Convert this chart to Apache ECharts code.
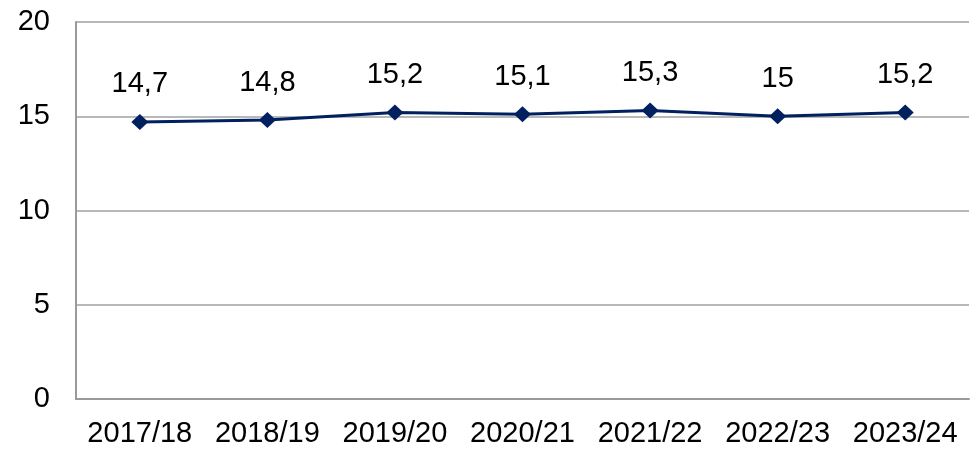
<!DOCTYPE html>
<html>
<head>
<meta charset="utf-8">
<style>
  html, body { margin: 0; padding: 0; background: #fff; }
  #chart { width: 970px; height: 449px; }
</style>
<script src="https://cdn.jsdelivr.net/npm/echarts@6/dist/echarts.min.js"></script>
</head>
<body>
<div id="chart"></div>
<script>
const categories = ['2017/18', '2018/19', '2019/20', '2020/21', '2021/22', '2022/23', '2023/24'];
const values = [14.7, 14.8, 15.2, 15.1, 15.3, 15, 15.2];
const yTicks = [0, 5, 10, 15, 20];

const FONT = '"Liberation Sans", Arial, sans-serif';
const chart = echarts.init(document.getElementById('chart'), null, { renderer: 'canvas' });

chart.setOption({
  animation: false,
  backgroundColor: '#ffffff',
  grid: { left: 76, right: 1, top: 22, bottom: 50, containLabel: false },
  xAxis: {
    type: 'category',
    data: categories,
    boundaryGap: true,
    axisLine: { show: true, lineStyle: { color: '#9a9a9a', width: 2 } },
    axisTick: { show: false },
    axisLabel: { color: '#000', fontFamily: FONT, fontSize: 29, margin: 20, interval: 0 }
  },
  yAxis: {
    type: 'value',
    min: yTicks[0],
    max: yTicks[yTicks.length - 1],
    interval: 5,
    axisLine: { show: true, lineStyle: { color: '#9a9a9a', width: 2 } },
    axisTick: { show: false },
    axisLabel: { color: '#000', fontFamily: FONT, fontSize: 29, margin: 26 },
    splitLine: { show: true, lineStyle: { color: '#a0a0a0', width: 1.5 } }
  },
  series: [{
    type: 'line',
    data: values,
    symbol: 'diamond',
    symbolSize: [17, 16],
    lineStyle: { color: '#002060', width: 3 },
    itemStyle: { color: '#002060' },
    label: {
      show: true,
      position: 'top',
      distance: 15,
      color: '#000',
      fontFamily: FONT,
      fontSize: 29,
      formatter: p => String(p.value).replace('.', ',')
    }
  }]
});
</script>
</body>
</html>
